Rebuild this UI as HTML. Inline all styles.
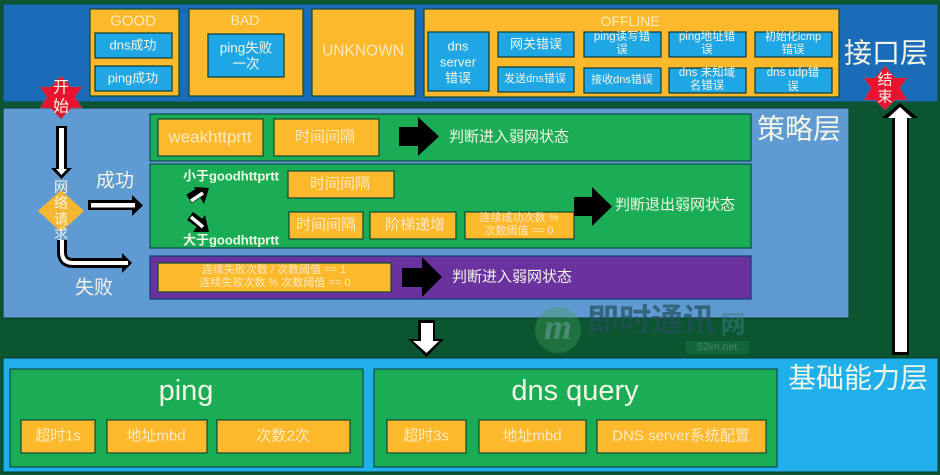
<!DOCTYPE html>
<html><head><meta charset="utf-8">
<style>
html,body{margin:0;padding:0;width:940px;height:475px;overflow:hidden;background:#0b5530}
svg{display:block;filter:blur(.35px)}
text{font-family:"Liberation Sans","Noto Sans CJK SC",sans-serif;fill:#f3f6e6;text-anchor:middle;dominant-baseline:central}
.o{fill:#fdb92c;stroke:#0d4a33;stroke-width:1.2}
.b{fill:#1fa6e4;stroke:#0d3a33;stroke-width:1.2}
.g{fill:#1aad55;stroke:#0d4a50;stroke-width:1.2}
.y{fill:#fbe9c0}
</style></head><body>
<svg width="940" height="475" viewBox="0 0 940 475" xmlns="http://www.w3.org/2000/svg">
<rect width="940" height="475" fill="#0b5530"/>
<rect x="3" y="4" width="935" height="98" fill="#1a6cb8" stroke="#0b4a30"/>
<rect x="3" y="108" width="846" height="210" fill="#5f9bd2" stroke="#0b3a30"/>
<rect x="3" y="358" width="935" height="114" fill="#1fb0ec" stroke="#0b3a30"/>

<!-- top -->
<rect class="o" x="90" y="9" width="89" height="87"/>
<text x="133" y="21" font-size="15" class="y">GOOD</text>
<rect class="b" x="95" y="33" width="77" height="25"/><text x="133" y="45" font-size="13">dns成功</text>
<rect class="b" x="95" y="66" width="77" height="25"/><text x="133" y="78" font-size="13">ping成功</text>
<rect class="o" x="189" y="9" width="114" height="87"/>
<text x="245" y="20" font-size="14" class="y">BAD</text>
<rect class="b" x="208" y="34" width="76" height="43"/>
<text x="246" y="48" font-size="13.500">ping失败</text><text x="246" y="64" font-size="13.500">一次</text>
<rect class="o" x="312" y="9" width="103" height="87"/>
<text x="363" y="51" font-size="15.500" class="y">UNKNOWN</text>
<rect class="o" x="424" y="9" width="415" height="88"/>
<text x="630" y="21" font-size="14" class="y">OFFLINE</text>
<rect class="b" x="428" y="32" width="61" height="59"/>
<text x="458" y="46" font-size="13">dns</text><text x="458" y="62" font-size="13">server</text><text x="458" y="78" font-size="13">错误</text>

<rect class="b" x="498" y="32" width="76" height="25"/><text x="536" y="44" font-size="13">网关错误</text>
<rect class="b" x="584" y="32" width="77" height="25"/><text x="622" y="37" font-size="11.500">ping读写错</text><text x="622" y="50" font-size="11.500">误</text>
<rect class="b" x="669" y="32" width="77" height="25"/><text x="707" y="37" font-size="11.500">ping地址错</text><text x="707" y="50" font-size="11.500">误</text>
<rect class="b" x="755" y="32" width="77" height="25"/><text x="793" y="37" font-size="11">初始化icmp</text><text x="793" y="50" font-size="11.500">错误</text>
<rect class="b" x="498" y="67" width="76" height="25"/><text x="535" y="79" font-size="11">发送dns错误</text>
<rect class="b" x="584" y="68" width="77" height="25"/><text x="622" y="80" font-size="11">接收dns错误</text>
<rect class="b" x="669" y="68" width="77" height="25"/><text x="707" y="73" font-size="11.500">dns 未知域</text><text x="707" y="86" font-size="11.500">名错误</text>
<rect class="b" x="755" y="68" width="77" height="25"/><text x="793" y="73" font-size="11.500">dns udp错</text><text x="793" y="87" font-size="11.500">误</text>

<text x="886" y="53" font-size="28">接口层</text>
<text x="799" y="129" font-size="28">策略层</text>
<text x="858" y="378" font-size="28">基础能力层</text>

<!-- green 1 -->
<rect class="g" x="150" y="114" width="601" height="47"/>
<rect class="o" x="158" y="119" width="105" height="37"/><text x="210" y="137" font-size="17" class="y">weakhttprtt</text>
<rect class="o" x="274" y="119" width="105" height="37"/><text x="325" y="137" font-size="15" class="y">时间间隔</text>
<path d="M399 127H418V117L439 136.500L418 156V146H399Z" fill="#000"/>
<text x="509" y="137" font-size="15">判断进入弱网状态</text>

<!-- green 2 -->
<rect class="g" x="150" y="164" width="601" height="84"/>
<text x="231" y="176" font-size="13" font-weight="bold">小于goodhttprtt</text>
<text x="231" y="240" font-size="13" font-weight="bold">大于goodhttprtt</text>
<rect class="o" x="288" y="171" width="106" height="27"/><text x="340" y="184" font-size="15" class="y">时间间隔</text>
<rect class="o" x="289" y="212" width="74" height="27"/><text x="326" y="225" font-size="15" class="y">时间间隔</text>
<rect class="o" x="370" y="212" width="86" height="27"/><text x="415" y="225" font-size="15" class="y">阶梯递增</text>
<rect class="o" x="465" y="212" width="109" height="27"/>
<text x="519" y="218" font-size="11" class="y">连续成功次数 %</text><text x="519" y="231" font-size="11" class="y">次数阈值 == 0</text>
<path d="M574 197H592V187L612 206.500L592 226V216H574Z" fill="#000"/>
<text x="675" y="205" font-size="15">判断退出弱网状态</text>

<!-- small arrows -->
<path d="M189 199L200 192" stroke="#000" stroke-width="10" fill="none"/>
<path d="M194 187L209 188L204 204Z" fill="#000"/>
<path d="M191 201L203 193" stroke="#fff" stroke-width="3.500" fill="none"/>
<path d="M190 216L201 224" stroke="#000" stroke-width="10" fill="none"/>
<path d="M193 232L209 232L205 215Z" fill="#000"/>
<path d="M191 217L203 227" stroke="#fff" stroke-width="3.500" fill="none"/>

<!-- purple -->
<rect x="150" y="256" width="601" height="43" fill="#6a329f" stroke="#123a70" stroke-width="1.200"/>
<rect class="o" x="158" y="263" width="233" height="29"/>
<text x="274" y="270" font-size="11" class="y">连续失败次数 / 次数阈值 == 1</text>
<text x="275" y="283" font-size="11" class="y">连续失败次数 % 次数阈值 == 0</text>
<path d="M402 268H422V257L442 277L422 297V287H402Z" fill="#000"/>
<text x="512" y="277" font-size="15">判断进入弱网状态</text>

<!-- left flow -->
<path d="M56 126H67V168H72L61.500 179L51 168H56Z" fill="#000"/>
<rect x="59" y="128" width="5" height="42" fill="#fff"/>
<path d="M56 169H67L61.500 175Z" fill="#fff"/>
<polygon points="61,190 84,211 61,232 38,211" fill="#f5b731"/>
<text x="61" y="187" font-size="14">网</text><text x="61" y="203" font-size="14">络</text><text x="61" y="219" font-size="14">请</text><text x="61" y="234" font-size="14">求</text>
<text x="115" y="181" font-size="19">成功</text>
<text x="94" y="288" font-size="19">失败</text>
<path d="M88 200H132V195L143 205.500L132 216V210H88Z" fill="#000"/>
<rect x="91" y="203" width="44" height="4.500" fill="#fff"/>
<path d="M62 240V252Q62 263 73 263H125" fill="none" stroke="#000" stroke-width="10"/>
<path d="M122 253L132 263L122 273Z" fill="#000"/>
<path d="M62 240V252Q62 263 73 263H128" fill="none" stroke="#fff" stroke-width="4"/>

<!-- long up arrow -->
<path d="M892 355V118H882L900 103L918 118H909V355Z" fill="#000"/>
<path d="M895 352V118H888L900 107L912 118H907V352Z" fill="#fff"/>
<!-- down arrow -->
<path d="M418 320H435V339H444L426.500 357L408 339H418Z" fill="#000"/>
<path d="M421 323H433V341H439L426.500 353L413 341H421Z" fill="#fff"/>

<!-- stars -->
<polygon points="61,76 71,87 82,87 75,97 82,108 71,108 61,119 51,108 40,108 47,97 40,87 51,87" fill="#e8132f" stroke="#8a5a6a" stroke-width=".6"/>
<text x="61" y="88" font-size="16">开</text><text x="61" y="107" font-size="16">始</text>
<polygon points="885,66 895,78 907,78 900,88 907,100 895,100 885,110 875,100 864,100 871,88 864,78 875,78" fill="#e8132f" stroke="#8a5a6a" stroke-width=".6"/>
<text x="885" y="80" font-size="15">结</text><text x="885" y="97" font-size="15">束</text>

<!-- watermark -->
<circle cx="558" cy="330" r="23" fill="#3f9a5a" opacity=".4"/>
<text x="558" y="327" font-size="36" font-style="italic" font-weight="bold" style="fill:#6f9f9f;font-family:'Liberation Serif',serif" opacity=".55">m</text>
<text x="651" y="320" font-size="32" font-weight="bold" style="fill:#24505a" opacity=".7">即时通讯</text>
<text x="733" y="325" font-size="25" font-weight="bold" style="fill:#3f7f80" opacity=".5">网</text>
<rect x="686" y="341" width="63" height="13" rx="2" fill="#1e7a48" opacity=".45"/>
<text x="717" y="347" font-size="10.500" style="fill:#3f8a60">52im.net</text>

<!-- bottom -->
<rect class="g" x="10" y="369" width="353" height="98"/>
<text x="186" y="391" font-size="29">ping</text>
<rect class="o" x="21" y="420" width="74" height="33"/><text x="58" y="436" font-size="15" class="y">超时1s</text>
<rect class="o" x="107" y="420" width="100" height="33"/><text x="156" y="436" font-size="15" class="y">地址mbd</text>
<rect class="o" x="217" y="420" width="133" height="33"/><text x="283" y="436" font-size="15" class="y">次数2次</text>
<rect class="g" x="374" y="369" width="403" height="98"/>
<text x="575" y="391" font-size="29">dns query</text>
<rect class="o" x="387" y="420" width="79" height="33"/><text x="426" y="436" font-size="15" class="y">超时3s</text>
<rect class="o" x="479" y="420" width="107" height="33"/><text x="532" y="436" font-size="15" class="y">地址mbd</text>
<rect class="o" x="597" y="420" width="169" height="33"/><text x="681" y="436" font-size="15" class="y">DNS server系统配置</text>
</svg>
</body></html>
